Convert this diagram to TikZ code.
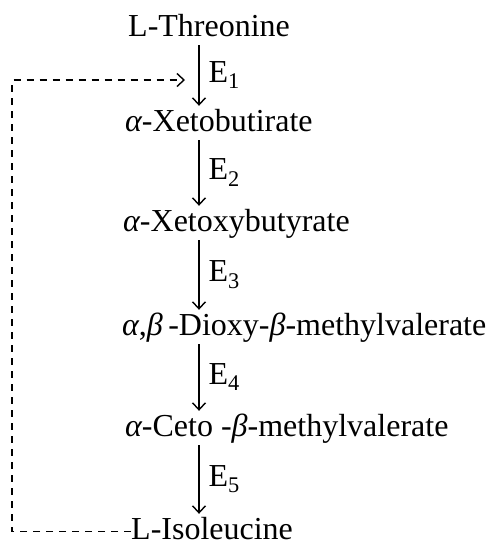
\documentclass[tikz,border=0pt]{standalone}
\usepackage{fontspec}
\setmainfont{Liberation Serif}
\usetikzlibrary{arrows.meta,positioning}

\newcommand{\galpha}{{\itshape α}}
\newcommand{\gbeta}{{\itshape β}}

\begin{document}
\begin{tikzpicture}[
    x=1pt, y=-1pt,
    chem/.style={anchor=base west, inner sep=0pt, text height=25pt, text depth=8pt, font=\fontsize{32}{38}\selectfont},
    enz/.style={right=9pt, inner sep=0pt, font=\fontsize{32}{38}\selectfont},
    react/.style={->, line width=1.4pt, shorten <=1pt},
    feedback/.style={->, line width=1.4pt, dash pattern=on 7pt off 6pt},
    >={Straight Barb[length=7pt,width=13pt]}
  ]
  \useasboundingbox (0,0) rectangle (486,547);
  \coordinate (col) at (199,0);
  \coordinate (loop) at (12,80);
  \coordinate (fb) at (185,80);

  \node[chem] (thr) at (128,36) {L-Threonine};
  \node[chem] (xbut) at (125,131) {\galpha-Xetobutirate};
  \node[chem] (xoxy) at (123,231) {\galpha-Xetoxybutyrate};
  \node[chem] (diox) at (122,335) {\galpha,\gbeta\,-Dioxy-\gbeta-methylvalerate};
  \node[chem] (ceto) at (125,436) {\galpha-Ceto -\gbeta-methylvalerate};
  \node[chem, text depth=2pt] (ile) at (131,539) {L-Isoleucine};

  \draw[react] (thr.south -| col) -- (xbut.north -| col) node[midway, enz] {E\textsubscript{1}};
  \draw[react] (xbut.south -| col) -- (xoxy.north -| col) node[midway, enz] {E\textsubscript{2}};
  \draw[react] (xoxy.south -| col) -- (diox.north -| col) node[midway, enz] {E\textsubscript{3}};
  \draw[react] (diox.south -| col) -- (ceto.north -| col) node[midway, enz] {E\textsubscript{4}};
  \draw[react] (ceto.south -| col) -- (ile.north -| col) node[midway, enz] {E\textsubscript{5}};

  % feedback inhibition
  \draw[feedback] ([yshift=-4pt]ile.west) -| (loop) -- (fb);
\end{tikzpicture}
\end{document}
